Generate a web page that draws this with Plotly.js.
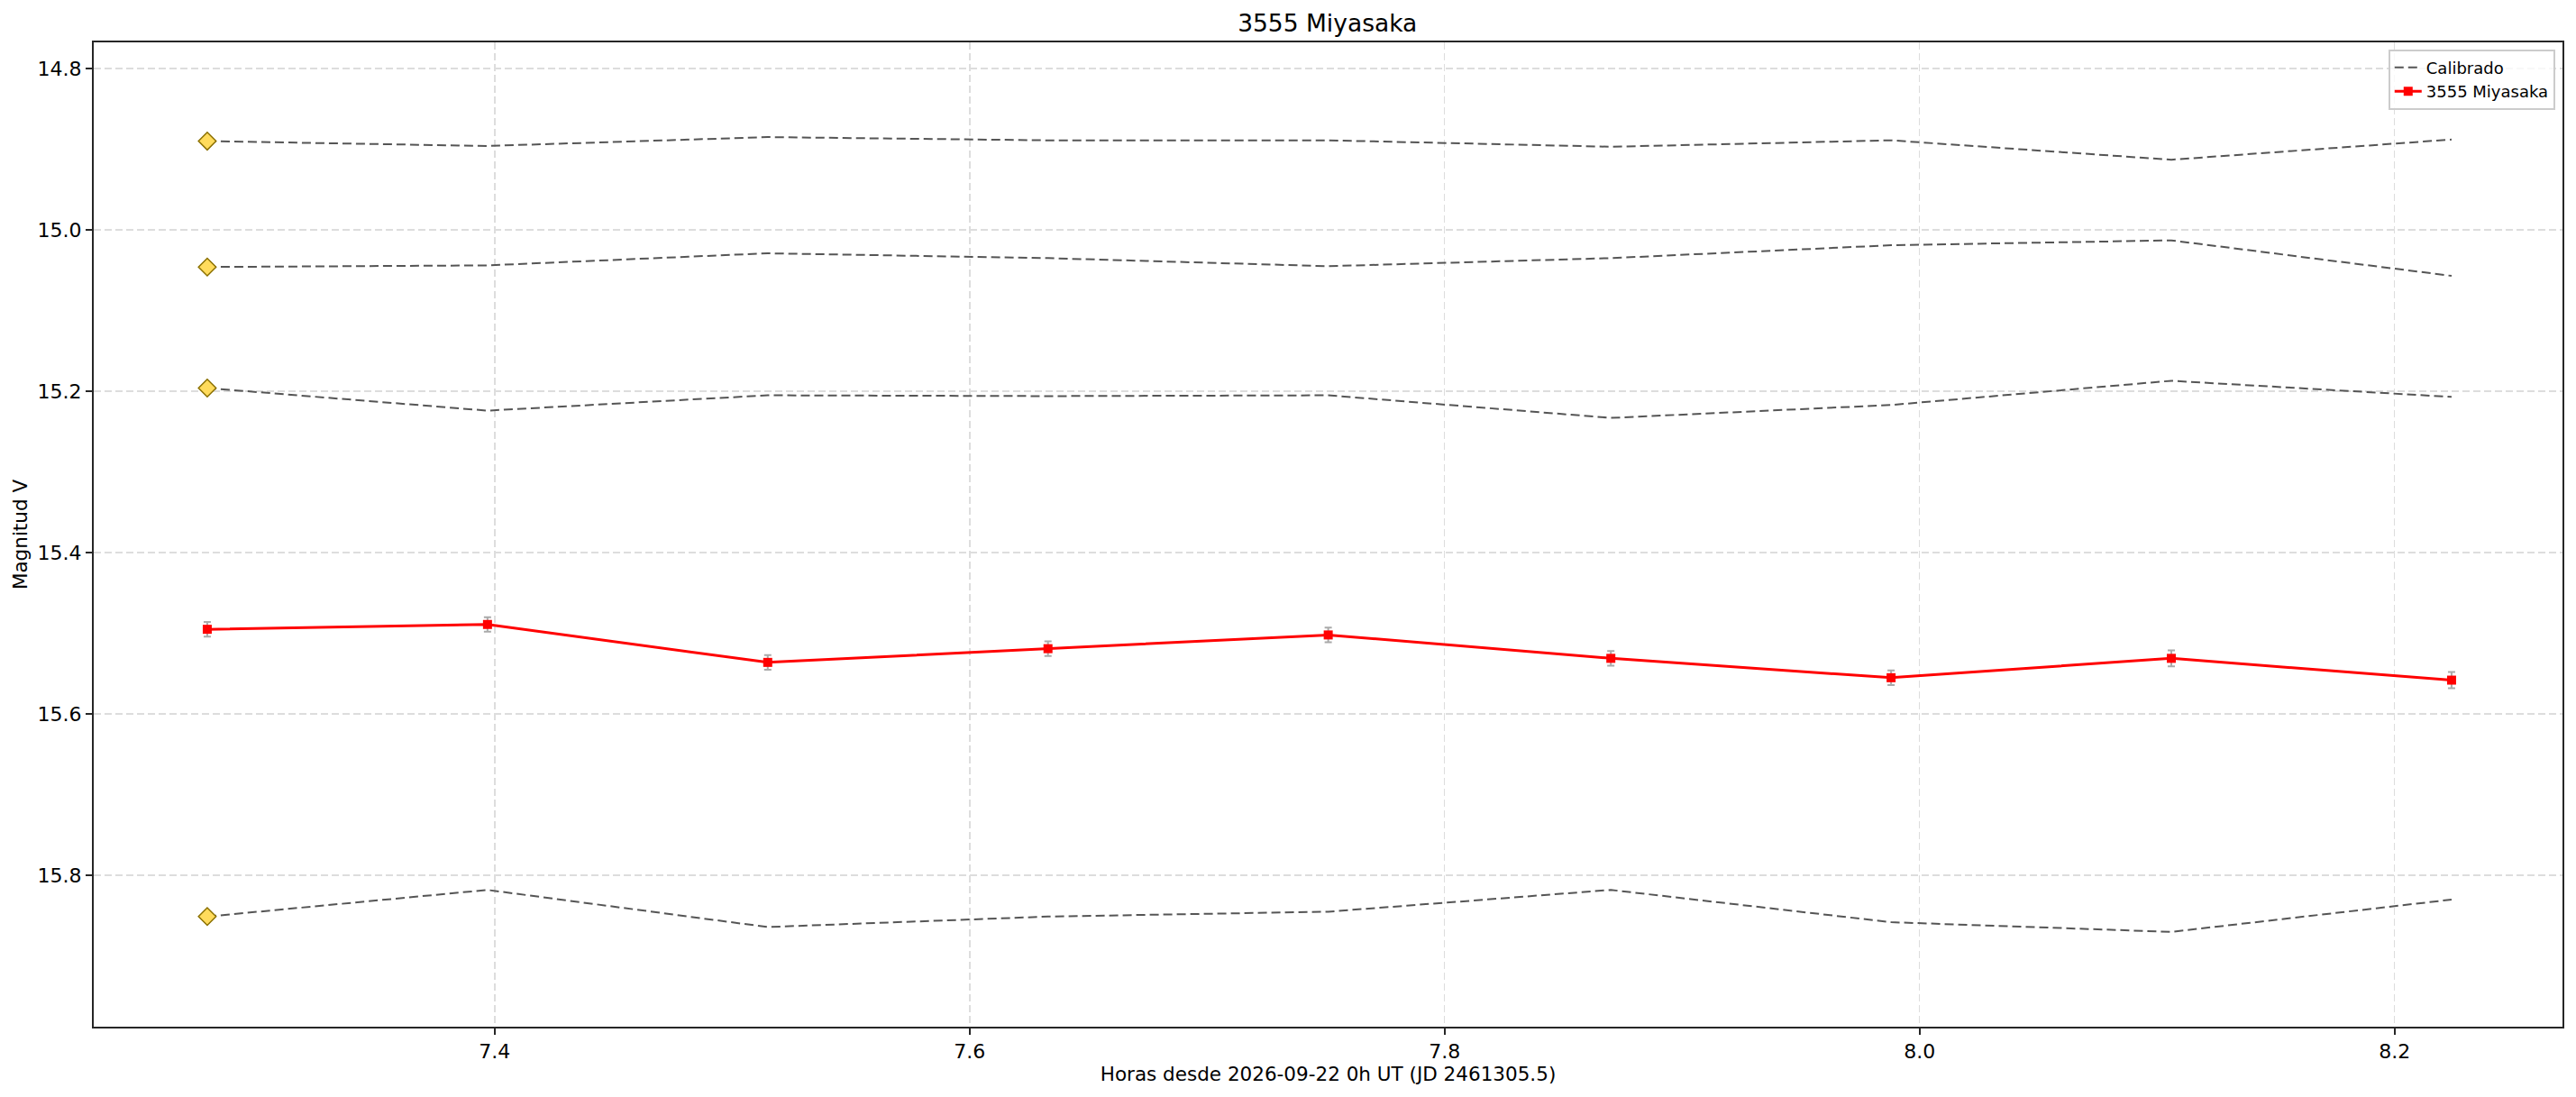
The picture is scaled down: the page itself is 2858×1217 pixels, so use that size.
<!DOCTYPE html>
<html>
<head>
<meta charset="utf-8">
<script src="https://cdn.plot.ly/plotly-3.0.1.min.js"></script>
<style>
  html, body { margin: 0; padding: 0; background: #ffffff; }
  #plot { width: 2858px; height: 1217px; }
</style>
</head>
<body>
<div id="plot"></div>
<script>
// hours since 2026-09-22 0h UT
const hours = [7.279, 7.397, 7.515, 7.633, 7.751, 7.870, 7.988, 8.106, 8.224];

// calibrated comparison stars (magnitude V)
const comp1 = [14.890, 14.896, 14.885, 14.889, 14.889, 14.897, 14.889, 14.913, 14.888];
const comp2 = [15.046, 15.044, 15.029, 15.035, 15.045, 15.035, 15.019, 15.013, 15.057];
const comp3 = [15.196, 15.224, 15.205, 15.206, 15.205, 15.233, 15.217, 15.187, 15.207];
const comp4 = [15.851, 15.818, 15.864, 15.851, 15.845, 15.818, 15.858, 15.870, 15.830];

// asteroid
const target = [15.495, 15.489, 15.536, 15.519, 15.502, 15.531, 15.555, 15.531, 15.558];
const targetErr = [0.009, 0.009, 0.009, 0.009, 0.009, 0.009, 0.009, 0.010, 0.010];

const yTicks = [14.8, 15.0, 15.2, 15.4, 15.6, 15.8];
const xTicks = [7.4, 7.6, 7.8, 8.0, 8.2];

const comps = [comp1, comp2, comp3, comp4];

const data = [];

comps.forEach((c, i) => {
    data.push({
        x: hours,
        y: c,
        mode: "lines",
        line: { color: "#555555", width: 2, dash: "10px,5px" },
        name: "Calibrado",
        legendgroup: "cal",
        showlegend: i === 0
    });
});

// diamond at the first point of each comparison star
data.push({
    x: comps.map(() => hours[0]),
    y: comps.map(c => c[0]),
    mode: "markers",
    marker: {
        symbol: "diamond",
        size: 15,
        color: "#FFDB5C",
        line: { color: "#8B7000", width: 1.5 }
    },
    showlegend: false,
    hoverinfo: "skip"
});

data.push({
    x: hours,
    y: target,
    mode: "lines+markers",
    line: { color: "#ff0000", width: 3 },
    marker: { symbol: "square", size: 10, color: "#ff0000" },
    error_y: {
        type: "data",
        array: targetErr,
        visible: true,
        color: "#aaaaaa",
        thickness: 2,
        width: 4
    },
    name: "3555 Miyasaka"
});

const axisFont = { family: "DejaVu Sans", size: 22, color: "#000000" };
const labelFont = { family: "DejaVu Sans", size: 21.5, color: "#000000" };

const layout = {
    width: 2858,
    height: 1217,
    paper_bgcolor: "#ffffff",
    plot_bgcolor: "#ffffff",
    margin: { l: 104, r: 15, t: 47, b: 78 },
    font: { family: "DejaVu Sans", color: "#000000" },
    title: {
        text: "3555 Miyasaka",
        font: { family: "DejaVu Sans", size: 26.5, color: "#000000" },
        x: 0.5153,
        xanchor: "center",
        y: 0.9785,
        yanchor: "middle"
    },
    xaxis: {
        range: [7.2312, 8.2707],
        tickvals: xTicks,
        ticktext: xTicks.map(v => v.toFixed(1)),
        ticks: "outside",
        ticklen: 7,
        tickwidth: 2,
        tickcolor: "#262626",
        tickfont: axisFont,
        showline: true,
        mirror: true,
        linecolor: "#262626",
        linewidth: 2,
        showgrid: true,
        gridcolor: "#dddddd",
        gridwidth: 1.5,
        griddash: "8px,4px",
        zeroline: false,
        title: {
            text: "Horas desde 2026-09-22 0h UT (JD 2461305.5)",
            font: labelFont,
            standoff: 6
        }
    },
    yaxis: {
        range: [15.9875, 14.7676],
        tickvals: yTicks,
        ticktext: yTicks.map(v => v.toFixed(1)),
        ticks: "outside",
        ticklen: 7,
        tickwidth: 2,
        tickcolor: "#262626",
        tickfont: axisFont,
        showline: true,
        mirror: true,
        linecolor: "#262626",
        linewidth: 2,
        showgrid: true,
        gridcolor: "#dddddd",
        gridwidth: 1.5,
        griddash: "8px,4px",
        zeroline: false,
        title: {
            text: "Magnitud V",
            font: labelFont,
            standoff: 5
        }
    },
    legend: {
        x: 0.997,
        xanchor: "right",
        y: 0.993,
        yanchor: "top",
        bgcolor: "rgba(255,255,255,0.8)",
        bordercolor: "#cccccc",
        borderwidth: 2,
        font: { family: "DejaVu Sans", size: 18, color: "#000000" },
        tracegroupgap: 0,
        itemwidth: 30
    },
    showlegend: true
};

Plotly.newPlot("plot", data, layout, { displayModeBar: false, staticPlot: true });
</script>
</body>
</html>
